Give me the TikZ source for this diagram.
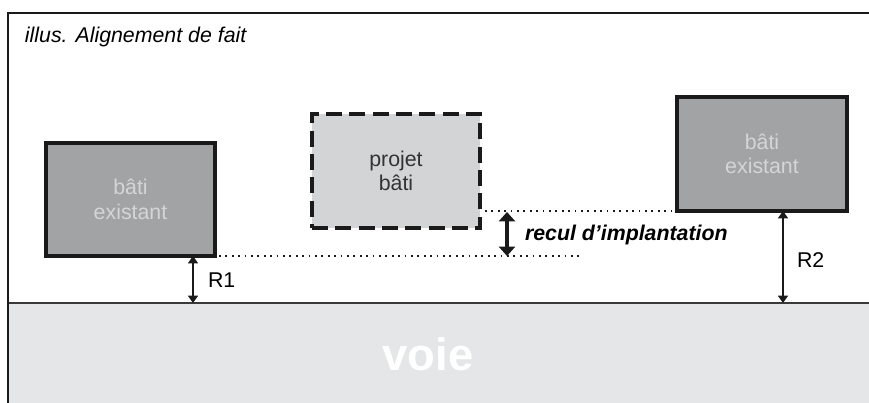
\documentclass[tikz,border=0pt]{standalone}
\usepackage{fontspec}
\setmainfont{Liberation Sans}
\usetikzlibrary{arrows.meta}
\definecolor{framec}{HTML}{1A1A1A}
\definecolor{roadline}{HTML}{3A3A3A}
\definecolor{roadfill}{HTML}{E5E6E7}
\definecolor{exfill}{HTML}{A2A3A5}
\definecolor{extext}{HTML}{D4D5D7}
\definecolor{prfill}{HTML}{D3D4D6}
\definecolor{prtext}{HTML}{333333}
\tikzset{
  lbl/.style={font=\fontsize{16}{19}\selectfont, inner sep=0pt, outer sep=0pt},
  exbox/.style={draw=framec, line width=2.4pt, fill=exfill, text=extext, align=center,
    font=\fontsize{16}{18.5}\selectfont, inner sep=0pt, outer sep=0pt},
  prbox/.style={draw=framec, line width=2.4pt, fill=prfill, text=prtext, align=center,
    dash pattern=on 12pt off 5.5pt,
    font=\fontsize{16}{18.5}\selectfont, inner sep=0pt, outer sep=0pt},
  dotline/.style={line width=1.4pt, dash pattern=on 1.4pt off 3.4pt, color=framec},
  thinarrow/.style={line width=1.1pt, color=framec, {Triangle[length=5.5pt,width=7.5pt]}-{Triangle[length=5.5pt,width=7.5pt]}},
  thickarrow/.style={line width=3pt, color=framec, {Triangle[length=7pt,width=12pt]}-{Triangle[length=7pt,width=12pt]}},
}
\begin{document}
\begin{tikzpicture}[x=0.75pt,y=-0.75pt]
\useasboundingbox (0,0) rectangle (869,403);
% road
\fill[roadfill] (8,303) rectangle (869,403);
\draw[line width=1.6pt, roadline] (8,303) -- (869,303);
% frame
\draw[line width=2pt, framec] (8,403) -- (8,13) -- (869,13);
% title
\node[lbl, anchor=west, font=\fontsize{16}{19}\selectfont\itshape] (title) at (25,37) {illus. Alignement de fait};
% road label
\node[lbl, text=white, font=\fontsize{34}{40}\selectfont\bfseries] (voie) at (428,354) {voie};
% boxes
\node[exbox, minimum width=126.75pt, minimum height=84.75pt] (left) at (130.5,199.5) {bâti\\existant};
\node[exbox, minimum width=127.5pt, minimum height=85.5pt] (right) at (762,154) {bâti\\existant};
\node[prbox, minimum width=126pt, minimum height=85.5pt] (proj) at (396,171) {projet\\bâti};
% road reference points
\coordinate (r1foot) at (193,303);
\coordinate (r2foot) at (783,303);
\coordinate (r1top) at (193,256);
\coordinate (r2top) at (783,211);
% dotted lines
\coordinate (dotAend) at (580,256);
\coordinate (dotBstart) at (485,211);
\draw[dotline] (left.south east) ++(4,0) -- (dotAend);
\draw[dotline] (dotBstart) -- (right.south west);
% recul arrow
\coordinate (recTop) at (507,212);
\coordinate (recBot) at (507,256);
\draw[thickarrow] (recTop) -- (recBot);
\node[lbl, anchor=west, font=\fontsize{16}{19}\selectfont\bfseries\itshape] (recul) at (525,235) {recul d’implantation};
% R arrows
\draw[thinarrow] (r1top) -- (r1foot);
\draw[thinarrow] (r2top) -- (r2foot);
\node[lbl, anchor=west] (R1) at (208,280) {R1};
\node[lbl, anchor=west] (R2) at (797,260) {R2};
\end{tikzpicture}
\end{document}
